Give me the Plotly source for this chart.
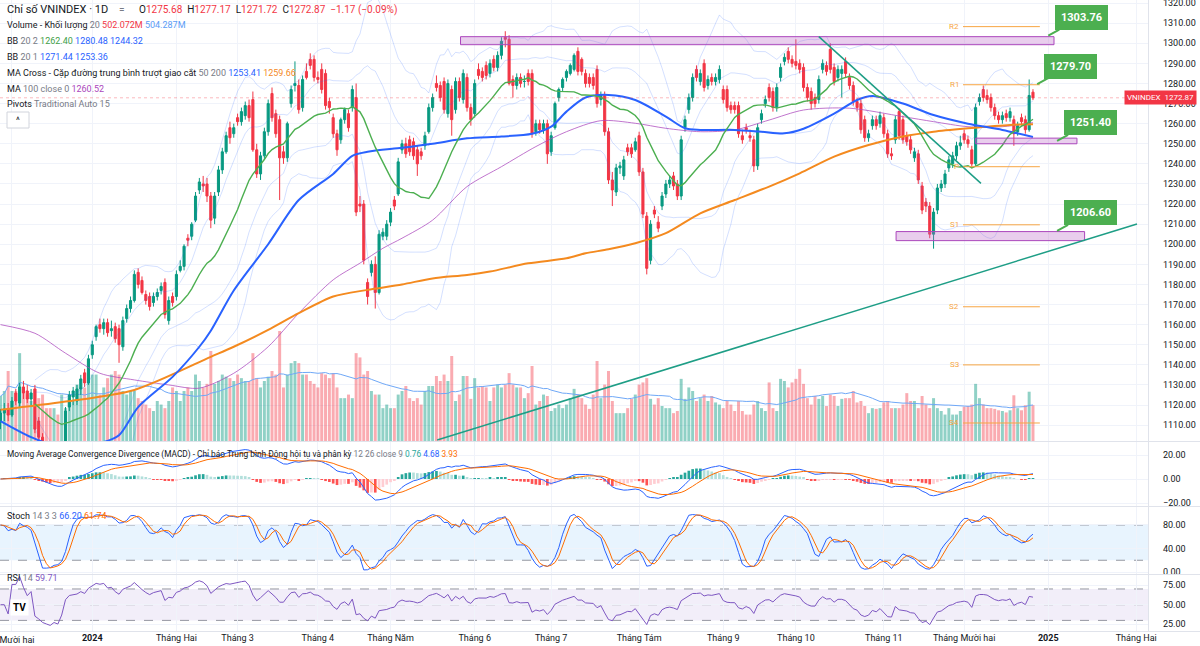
import numpy as np
import pandas as pd
import plotly.graph_objects as go

# ------------------------------------------------------------------ data
opens = [1112,1116,1118,1115,1126,1121,1129,1127,1123,1128,
1112,1104,1098,1095,1092,1094,1091,1098,1119,1124,
1122,1128,1136,1131,1145,1154,1160,1158,1161,1157,
1159,1158,1149,1163,1168,1172,1186,1182,1175,1174,
1171,1174,1177,1181,1162,1174,1174,1187,1189,1203,
1204,1212,1227,1230,1230,1224,1213,1226,1237,1246,
1258,1255,1263,1261,1264,1269,1272,1247,1235,1244,
1256,1275,1265,1262,1246,1243,1270,1279,1279,1268,
1286,1292,1292,1283,1287,1285,1271,1263,1255,1252,
1262,1265,1268,1273,1220,1220,1181,1186,1190,1176,
1204,1204,1211,1222,1225,1247,1250,1252,1251,1247,
1246,1249,1256,1268,1280,1279,1281,1265,1277,1267,
1281,1272,1283,1268,1265,1287,1286,1289,1285,1292,
1288,1294,1303,1302,1282,1279,1283,1281,1285,1285,
1256,1260,1257,1260,1246,1258,1273,1278,1283,1285,
1287,1296,1292,1285,1283,1283,1287,1272,1274,1256,
1232,1226,1238,1234,1248,1248,1247,1254,1236,1214,
1192,1217,1211,1219,1225,1230,1234,1230,1224,1258,
1267,1273,1287,1281,1290,1279,1283,1281,1282,1277,
1277,1269,1269,1269,1254,1258,1254,1252,1239,1262,
1270,1278,1276,1268,1283,1291,1296,1292,1291,1290,
1288,1278,1276,1273,1272,1287,1289,1297,1288,1283,
1285,1291,1283,1279,1271,1270,1262,1253,1259,1262,
1260,1263,1255,1245,1252,1266,1262,1254,1252,1243,
1245,1229,1221,1219,1205,1217,1228,1230,1238,1240,
1244,1249,1255,1252,1247,1240,1271,1277,1274,1273,
1268,1264,1262,1265,1263,1262,1256,1263,1262,1257,
1275.68]

highs = [1118,1121,1121,1124,1128,1131,1132,1130,1128,1130,
1114,1106,1102,1099,1097,1098,1100,1119,1127,1129,
1130,1135,1138,1145,1152,1160,1163,1163,1163,1162,
1161,1160,1164,1170,1174,1187,1188,1184,1177,1176,
1176,1178,1181,1183,1174,1176,1187,1192,1200,1205,
1211,1226,1233,1234,1233,1226,1226,1239,1248,1256,
1261,1260,1265,1268,1271,1272,1276,1250,1246,1258,
1272,1278,1267,1264,1249,1261,1279,1291,1282,1284,
1290,1295,1294,1286,1290,1287,1273,1265,1257,1263,
1268,1267,1279,1280,1224,1222,1183,1192,1194,1207,
1208,1212,1218,1224,1243,1252,1253,1254,1253,1249,
1248,1256,1270,1275,1284,1281,1283,1282,1279,1283,
1283,1287,1285,1270,1282,1290,1288,1291,1292,1294,
1296,1303,1306,1304,1284,1285,1285,1284,1287,1287,
1262,1262,1262,1262,1256,1271,1278,1283,1287,1290,
1295,1298,1293,1287,1285,1285,1289,1276,1276,1258,
1236,1240,1241,1244,1250,1250,1253,1256,1238,1216,
1212,1219,1214,1226,1232,1234,1236,1232,1254,1264,
1275,1285,1289,1287,1292,1284,1285,1285,1289,1279,
1279,1271,1271,1271,1257,1260,1257,1254,1260,1267,
1274,1280,1278,1280,1290,1295,1298,1294,1302,1292,
1290,1280,1278,1275,1284,1292,1291,1300,1290,1289,
1289,1293,1285,1281,1273,1272,1264,1257,1264,1264,
1266,1265,1257,1248,1264,1267.5,1264,1256,1254,1248,
1247,1231,1223,1221,1218,1230,1232,1237,1244,1246,
1251,1254,1257,1254,1249,1270,1275,1279,1277,1275,
1270,1266,1266,1267,1268,1264,1261,1265,1264,1282,
1277.17]

lows = [1108,1112,1112,1114,1120,1119,1123,1121,1120,1106,
1102,1096,1092,1088,1086,1089,1088,1097,1117,1120,
1120,1125,1129,1130,1143,1152,1156,1155,1154,1154,
1151,1141,1147,1161,1166,1171,1178,1175,1170,1167,
1169,1172,1175,1163,1160,1169,1172,1186,1187,1199,
1202,1211,1225,1226,1221,1208,1210,1224,1235,1245,
1250,1253,1259,1259,1262,1261,1246,1233,1232,1242,
1254,1261,1253,1222,1240,1241,1268,1276,1265,1266,
1282,1287,1281,1280,1275,1267,1265,1253,1244,1250,
1260,1256,1266,1214,1216,1190,1170,1184,1168,1175,
1202,1202,1209,1217,1224,1245,1243,1244,1242,1234,
1242,1247,1255,1266,1276,1271,1265,1263,1254,1265,
1271,1270,1266,1259,1263,1282,1281,1282,1283,1286,
1286,1292,1298,1279,1273,1277,1278,1278,1279,1253,
1254,1255,1255,1240,1244,1257,1271,1276,1281,1284,
1286,1284,1284,1278,1278,1277,1268,1269,1254,1230,
1219,1224,1235,1232,1244,1243,1246,1234,1213,1185,
1190,1213,1206,1217,1223,1228,1227,1222,1222,1256,
1265,1271,1281,1279,1276,1277,1279,1279,1280,1270,
1266,1265,1265,1253,1250,1255,1251,1236,1237,1260,
1268,1271,1266,1266,1281,1289,1290,1288,1287,1285,
1276,1271,1267,1268,1270,1285,1284,1285,1279,1281,
1273,1283,1277,1269,1266,1255,1251,1251,1257,1257,
1258,1253,1243,1242,1250,1252,1250,1249,1245,1241,
1230,1215,1216,1203,1197.8,1215,1226,1228,1236,1238,
1242,1247,1250,1248,1238,1239,1269,1271,1270,1266,
1262,1260,1260,1261,1261,1249,1254,1259,1255,1256,
1271.72]

closes = [1116,1118,1115,1122,1122,1129,1126,1123,1126,1108,
1104,1098,1095,1092,1094,1091,1098,1117,1125,1127,
1128,1133,1131,1143,1150,1159,1158,1161,1156,1158,
1153,1150,1162,1168,1172,1185,1180,1176,1172,1169,
1174,1176,1179,1165,1172,1171,1185,1189,1199,1202,
1210,1224,1231,1229,1224,1212,1224,1237,1246,1254,
1253,1258,1261,1266,1269,1263,1247,1235,1244,1256,
1270,1263,1255,1243,1243,1260,1277,1280,1267,1282,
1283,1289,1283,1282,1277,1269,1268,1255,1247,1262,
1267,1258,1277,1216,1219,1192,1174,1190,1176,1205,
1206,1210,1216,1219,1241,1250,1245,1246,1244,1240,
1244,1254,1268,1273,1278,1273,1267,1280,1262,1281,
1273,1285,1268,1262,1280,1284,1283,1284,1290,1288,
1294,1301,1302,1280,1279,1283,1280,1281,1281,1255,
1260,1257,1260,1245,1254,1270,1277,1282,1286,1289,
1294,1286,1286,1280,1280,1279,1270,1274,1256,1232,
1227,1238,1239,1242,1246,1245,1251,1236,1215,1188,
1210,1215,1208,1224,1230,1232,1229,1224,1252,1262,
1273,1283,1283,1285,1278,1282,1281,1283,1287,1272,
1268,1267,1267,1255,1252,1257,1253,1239,1258,1265,
1272,1273,1268,1278,1288,1293,1292,1290,1289,1287,
1278,1273,1270,1270,1282,1290,1286,1287,1281,1287,
1287,1285,1279,1271,1268,1257,1253,1255,1262,1259,
1264,1255,1245,1244,1262,1254,1252,1251,1247,1246,
1232,1217,1219,1205,1216,1228,1230,1235,1242,1244,
1249,1250.46,1252,1250,1240,1268,1273,1273,1272,1268,
1264,1262,1264,1263,1266,1255,1259,1261,1257,1274.04,
1272.87]

volumes_m = [630,700,980,700,700,1230,730,650,560,730,
600,650,460,460,460,370,650,460,600,560,
790,750,750,1120,930,930,650,750,880,930,
980,930,700,650,700,700,600,560,510,460,
420,560,510,460,560,750,700,560,700,750,
700,930,840,750,800,1260,800,840,930,900,
880,840,930,880,840,840,1230,880,750,840,
900,980,930,1540,750,930,1090,1120,1090,930,
930,840,800,750,950,930,880,950,750,600,
600,650,600,1230,1170,930,980,700,650,650,
460,510,460,460,650,700,770,600,560,600,
510,700,770,770,910,840,930,840,1190,560,
650,910,910,590,880,750,770,750,560,750,
790,750,790,950,790,750,750,600,670,1050,
510,560,650,630,420,460,510,460,510,600,
730,650,600,510,450,650,1120,600,790,980,
560,390,390,390,460,590,650,790,820,880,
590,510,600,490,460,460,390,420,870,590,
750,700,560,600,650,560,630,540,510,460,
560,510,420,560,420,370,370,510,560,460,
420,820,460,420,870,840,750,820,870,1010,
800,600,510,630,590,630,490,650,630,490,
590,600,600,700,540,560,490,390,460,450,
460,540,560,460,460,460,510,670,560,560,
460,630,510,460,600,460,420,370,460,370,
370,420,480,490,510,800,600,510,460,460,
450,430,420,400,430,640,460,430,500,690,
502.072]

# long moving averages (bar index, value)
ma50_bar = [0, 8, 14, 20, 26, 31, 36, 45, 52, 55, 61, 70, 78, 87, 92, 96, 105, 113, 122, 131,
            139, 144, 148, 153, 159, 166, 174, 179, 183, 192, 199, 205, 210, 218, 224, 228,
            236, 244, 253, 262, 270]
ma50_val = [1112, 1104, 1100, 1099, 1101, 1105, 1119, 1134, 1149, 1157, 1177, 1200, 1222, 1235,
            1244, 1246, 1248, 1250, 1252.7, 1253.6, 1255, 1258.5, 1266, 1273, 1274.3, 1271.8,
            1263.5, 1257.7, 1256.9, 1256.9, 1256, 1255.2, 1257.5, 1265, 1271.8, 1273.8, 1270,
            1264.3, 1260, 1256.9, 1253.41]
ma200_bar = [0, 17, 35, 55, 61, 70, 78, 87, 96, 105, 113, 122, 128, 138, 148, 153, 159, 166, 174,
             183, 192, 201, 209, 218, 227, 236, 244, 253, 264, 270]
ma200_val = [1117.6, 1121.7, 1127.5, 1144, 1149, 1157.4, 1165.7, 1174, 1177.3, 1180, 1183, 1184.7,
             1186.4, 1190.5, 1193, 1195.5, 1197.5, 1200.5, 1205.5, 1215.4, 1222, 1228.7, 1235.3,
             1243.6, 1249.4, 1253.6, 1256, 1257.7, 1259.4, 1259.66]
ma100_bar = [0, 9, 17, 26, 35, 44, 52, 61, 70, 78, 87, 94, 100, 105, 113, 122, 131, 140, 148, 157,
             166, 174, 183, 192, 201, 210, 222, 236, 244, 253, 262, 270]
ma100_val = [1160, 1155.7, 1145.8, 1135.8, 1132.5, 1130, 1128.4, 1135.8, 1149, 1165.7, 1182.3,
             1190.6, 1198, 1203, 1212, 1228.7, 1238.6, 1248.6, 1256, 1261.5, 1260.2, 1257.7, 1256,
             1256.9, 1261.8, 1266.8, 1267.7, 1263.5, 1261, 1258.5, 1258.5, 1260.52]

# user drawings: zones (low, high, from bar, to bar), trend lines, callouts (value, bar)
zone_low = [1299.3, 1250.0, 1201.8]
zone_high = [1303.3, 1252.8, 1206.3]
zone_from = [120.3, 255.0, 234.2]
zone_to = [275.5, 281.5, 283.5]
trend_x0 = [114.2, 214.0]
trend_y0 = [1102.6, 1303.3]
trend_x1 = [297.2, 256.4]
trend_y1 = [1210.1, 1230.3]
callout_val = [1303.76, 1279.70, 1251.40, 1206.60]
callout_bar = [274.0, 271.1, 276.3, 276.3]

holidays = ["2024-01-01", "2024-02-08", "2024-02-09", "2024-02-12", "2024-02-13", "2024-02-14",
            "2024-04-18", "2024-04-29", "2024-04-30", "2024-05-01", "2024-09-02", "2024-09-03"]
month_names = {2: "Tháng Hai", 3: "Tháng 3", 4: "Tháng 4", 5: "Tháng Năm", 6: "Tháng 6",
               7: "Tháng 7", 8: "Tháng Tám", 9: "Tháng 9", 10: "Tháng 10", 11: "Tháng 11",
               12: "Tháng Mười hai"}

# ------------------------------------------------------------------ derived
past = [d for d in pd.bdate_range("2023-11-28", "2024-12-26") if d.strftime("%Y-%m-%d") not in holidays]
future = list(pd.bdate_range("2024-12-27", periods=40))
dates = past + future
n = len(closes)
assert len(past) == n == len(opens) == len(highs) == len(lows) == len(volumes_m)
idx = np.arange(n)

tickvals, ticktext = [], []
for i in range(1, len(dates)):
    if dates[i].month != dates[i - 1].month:
        tickvals.append(i)
        ticktext.append(f"<b>{dates[i].year}</b>" if dates[i].month == 1 else month_names[dates[i].month])
# the first month label is cut by the left edge: draw it separately
first_tick_text = ticktext[0]
ticktext[0] = ""

c = pd.Series(closes, dtype=float)
hi = pd.Series(highs, dtype=float)
lo = pd.Series(lows, dtype=float)
op = pd.Series(opens, dtype=float)
vol = pd.Series(volumes_m, dtype=float)

ma20 = c.rolling(20, min_periods=10).mean()
sd20 = c.rolling(20, min_periods=10).std(ddof=0)
bb2u, bb2l = ma20 + 2 * sd20, ma20 - 2 * sd20
bb1u, bb1l = ma20 + sd20, ma20 - sd20
vma = vol.rolling(20, min_periods=1).mean()

ema12 = c.ewm(span=12, adjust=False).mean()
ema26 = c.ewm(span=26, adjust=False).mean()
macd = ema12 - ema26
signal = macd.ewm(span=9, adjust=False).mean()
hist = macd - signal

hh = hi.rolling(14, min_periods=1).max()
ll = lo.rolling(14, min_periods=1).min()
raw_k = 100 * (c - ll) / (hh - ll)
stoch_k = raw_k.rolling(3, min_periods=1).mean()
stoch_d = stoch_k.rolling(3, min_periods=1).mean()

delta = c.diff().fillna(0)
gain = delta.clip(lower=0).ewm(alpha=1 / 14, adjust=False).mean()
loss = (-delta.clip(upper=0)).ewm(alpha=1 / 14, adjust=False).mean()
rsi = 100 - 100 / (1 + gain / loss.replace(0, np.nan))
rsi = rsi.fillna(50)

# monthly traditional pivots from November bars
nov = [i for i in range(n) if past[i].year == 2024 and past[i].month == 11]
dec = [i for i in range(n) if past[i].year == 2024 and past[i].month == 12]
pH, pL, pC = max(highs[i] for i in nov), min(lows[i] for i in nov), closes[nov[-1]]
PP = (pH + pL + pC) / 3
pivots = {"R2": PP + (pH - pL), "R1": 2 * PP - pL, "P": PP, "S1": 2 * PP - pH,
          "S2": PP - (pH - pL), "S3": 2 * PP - (2 * pH - pL), "S4": 3 * PP - (3 * pH - pL)}

# ------------------------------------------------------------------ style / layout
W, H = 1200, 646
FONT = "Roboto, 'Liberation Sans', Arial, sans-serif"
UP, DOWN = "#089981", "#f23645"
DARK, GREY = "#131722", "#787b86"
GRID = "#f0f3fa"
PLOT_R = 1148
BAR_PX = 3.824
xr0 = -0.5 / BAR_PX
xr1 = xr0 + PLOT_R / BAR_PX
MAIN, MACDP, STOP, RSIP = (0, 441), (442, 506), (507, 574), (575, 631)
NB = "\u00a0"


def dom(p):
    return [1 - p[1] / H, 1 - p[0] / H]


def px(x):
    return x / W


def py(y):
    return 1 - y / H


fig = go.Figure()

# volume (base axis of the main pane, drawn under price)
vcol = ["rgba(8,153,129,0.45)" if closes[i] >= opens[i] else "rgba(242,54,69,0.42)" for i in range(n)]
fig.add_trace(go.Bar(x=idx, y=vol, marker=dict(color=vcol, line=dict(width=0)), width=0.78,
                     xaxis="x2", yaxis="y"))
fig.add_trace(go.Scatter(x=idx, y=vma, mode="lines", line=dict(color="#6fa8f7", width=1),
                         xaxis="x2", yaxis="y"))

# candles
fig.add_trace(go.Candlestick(x=idx, open=op, high=hi, low=lo, close=c,
                             increasing=dict(line=dict(color=UP, width=1), fillcolor=UP),
                             decreasing=dict(line=dict(color=DOWN, width=1), fillcolor=DOWN),
                             whiskerwidth=0, xaxis="x2", yaxis="y5"))

band_col = "rgba(41,98,255,0.2)"
for s in (bb2u, bb2l, bb1u, bb1l):
    fig.add_trace(go.Scatter(x=idx, y=s, mode="lines", line=dict(color=band_col, width=1),
                             xaxis="x2", yaxis="y5"))
fig.add_trace(go.Scatter(x=ma100_bar, y=ma100_val, mode="lines",
                         line=dict(color="rgba(171,71,188,0.75)", width=1, shape="spline", smoothing=0.8),
                         xaxis="x2", yaxis="y5"))
fig.add_trace(go.Scatter(x=ma200_bar, y=ma200_val, mode="lines",
                         line=dict(color="#f48a1f", width=2, shape="spline", smoothing=0.8),
                         xaxis="x2", yaxis="y5"))
fig.add_trace(go.Scatter(x=ma50_bar, y=ma50_val, mode="lines",
                         line=dict(color="#2962ff", width=2, shape="spline", smoothing=0.8),
                         xaxis="x2", yaxis="y5"))
fig.add_trace(go.Scatter(x=idx, y=ma20, mode="lines", line=dict(color="#4caf50", width=1.4),
                         xaxis="x2", yaxis="y5"))

# MACD
hcol = []
for i in range(n):
    prev = hist.iloc[i - 1] if i > 0 else 0
    h = hist.iloc[i]
    if h >= 0:
        hcol.append("#26a69a" if h >= prev else "#b2dfdb")
    else:
        hcol.append("#ff5252" if h <= prev else "#ffcdd2")
fig.add_trace(go.Bar(x=idx, y=hist, marker=dict(color=hcol, line=dict(width=0)), width=0.7,
                     xaxis="x3", yaxis="y2"))
fig.add_trace(go.Scatter(x=idx, y=macd, mode="lines", line=dict(color="#2962ff", width=1),
                         xaxis="x3", yaxis="y2"))
fig.add_trace(go.Scatter(x=idx, y=signal, mode="lines", line=dict(color="#ff6d00", width=1),
                         xaxis="x3", yaxis="y2"))
# Stoch
fig.add_trace(go.Scatter(x=idx, y=stoch_k, mode="lines", line=dict(color="#2962ff", width=1),
                         xaxis="x4", yaxis="y3"))
fig.add_trace(go.Scatter(x=idx, y=stoch_d, mode="lines", line=dict(color="#ff6d00", width=1),
                         xaxis="x4", yaxis="y3"))
# RSI
fig.add_trace(go.Scatter(x=idx, y=rsi, mode="lines", line=dict(color="#7e57c2", width=1),
                         xaxis="x", yaxis="y4"))

shapes = []
shapes.append(dict(type="rect", xref="paper", yref="y3", x0=0, x1=px(PLOT_R), y0=20, y1=80,
                   fillcolor="rgba(33,150,243,0.10)", line=dict(width=0), layer="below"))
for lv in (80, 20):
    shapes.append(dict(type="line", xref="paper", yref="y3", x0=0, x1=px(PLOT_R), y0=lv, y1=lv,
                       line=dict(color="#9598a1", width=1, dash="dash"), layer="below"))
shapes.append(dict(type="rect", xref="paper", yref="y4", x0=0, x1=px(PLOT_R), y0=30, y1=70,
                   fillcolor="rgba(126,87,194,0.10)", line=dict(width=0), layer="below"))
for lv in (70, 50, 30):
    shapes.append(dict(type="line", xref="paper", yref="y4", x0=0, x1=px(PLOT_R), y0=lv, y1=lv,
                       line=dict(color="#9598a1", width=1, dash="dash"), layer="below"))
for yy in (441.5, 506.5, 574.5):
    shapes.append(dict(type="line", xref="paper", yref="paper", x0=0, x1=1, y0=py(yy), y1=py(yy),
                       line=dict(color="#e0e3eb", width=1)))
shapes.append(dict(type="line", xref="paper", yref="paper", x0=px(PLOT_R + 0.5), x1=px(PLOT_R + 0.5),
                   y0=py(631), y1=1, line=dict(color="#e0e3eb", width=1)))
shapes.append(dict(type="line", xref="paper", yref="paper", x0=0, x1=1, y0=py(631.5), y1=py(631.5),
                   line=dict(color="#e0e3eb", width=1)))
shapes.append(dict(type="line", xref="paper", yref="y5", x0=0, x1=px(PLOT_R), y0=closes[-1], y1=closes[-1],
                   line=dict(color="rgba(242,54,69,0.35)", width=1, dash="dot")))
for lo_, hi_, a, b in zip(zone_low, zone_high, zone_from, zone_to):
    shapes.append(dict(type="rect", xref="x2", yref="y5", x0=a, x1=b, y0=lo_, y1=hi_,
                       fillcolor="rgba(186,104,200,0.32)", line=dict(color="#ab47bc", width=1)))
for a, b, cc, d in zip(trend_x0, trend_y0, trend_x1, trend_y1):
    shapes.append(dict(type="line", xref="x2", yref="y5", x0=a, y0=b, x1=cc, y1=d,
                       line=dict(color="#1e9e86", width=1.5)))
piv_x0 = dec[0] - 0.3
piv_x1 = n + 0.8
for name, val in pivots.items():
    shapes.append(dict(type="line", xref="x2", yref="y5", x0=piv_x0, x1=piv_x1, y0=val, y1=val,
                       line=dict(color="#f7a543", width=1)))
shapes.append(dict(type="rect", xref="paper", yref="paper", x0=px(7), x1=px(29), y0=py(128), y1=py(112),
                   line=dict(color="#d1d4dc", width=1), fillcolor="white"))
fig.update_layout(shapes=shapes)

ann = []


def label(x, y, text, size=9, color=DARK, xanchor="left", **kw):
    ann.append(dict(xref="paper", yref="paper", x=px(x), y=py(y), text=text, showarrow=False,
                    xanchor=xanchor, yanchor="middle", font=dict(family=FONT, size=size, color=color), **kw))


def sp(t, col):
    return f"<span style='color:{col}'>{t}</span>"


BLUE = "#2962ff"
ORANGE = "#f48a1f"
G2 = NB * 2
label(5, 10, "Chỉ số VNINDEX · 1D", size=11)
label(122, 10, "=", size=10, color=GREY, xanchor="center")
label(137, 10, "O" + sp("1275.68", DOWN) + G2 + "H" + sp("1277.17", DOWN) + G2 + "L" + sp("1271.72", DOWN) +
      G2 + "C" + sp("1272.87", DOWN) + G2 + sp("−1.17 (−0.09%)", DOWN), size=10)
label(5, 25, "Volume - Khối lượng " + sp("20", GREY) + " " + sp("502.072M", DOWN) + " " + sp("504.287M", "#5b9cf6"))
label(5, 41, "BB " + sp("20 2", GREY) + " " + sp("1262.40", "#43a047") + " " + sp("1280.48", BLUE) + " " + sp("1244.32", BLUE))
label(5, 57, "BB " + sp("20 1", GREY) + " " + sp("1271.44", BLUE) + " " + sp("1253.36", BLUE))
label(5, 73, "MA Cross - Cặp đường trung bình trượt giao cắt " + sp("50 200", GREY) + " " +
      sp("1253.41", BLUE) + " " + sp("1259.66", ORANGE))
label(5, 89, "MA " + sp("100 close 0", GREY) + " " + sp("1260.52", "#ab47bc"))
label(5, 104, "Pivots " + sp("Traditional Auto 15", GREY))
label(18, 120, "^", size=9, color=DARK, xanchor="center")
label(5, 454, "Moving Average Convergence Divergence (MACD) - Chỉ báo Trung bình Động hội tụ và phân kỳ " +
      sp("12 26 close 9", GREY) + " " + sp("0.76", "#26a69a") + " " + sp("4.68", BLUE) + " " + sp("3.93", "#ff6d00"),
      size=8.3)
label(5, 516, "Stoch " + sp("14 3 3", GREY) + " " + sp("66.20", BLUE) + " " + sp("61.74", "#ff6d00"))
label(5, 578, "RSI " + sp("14", GREY) + " " + sp("59.71", "#7e57c2"))
label(19, 607, "<b>TV</b>", size=10, color="#000000", xanchor="center", bgcolor="white", borderpad=2)
label(37, 640, first_tick_text, size=9, color=DARK, xanchor="right")

ann.append(dict(xref="paper", yref="y5", x=px(1160), y=closes[-1], text="VNINDEX" + G2 + f"{closes[-1]:.2f}",
                showarrow=False, xanchor="center", yanchor="middle", bgcolor=DOWN, borderpad=2,
                font=dict(family=FONT, size=8, color="white")))
for val, bar in zip(callout_val, callout_bar):
    ann.append(dict(xref="x2", yref="y5", x=bar, y=val, text=f"<b>{val:.2f}</b>", showarrow=True,
                    arrowhead=0, arrowwidth=2, arrowcolor="#4caf50", ax=33, ay=-18, standoff=0,
                    bgcolor="#4caf50", bordercolor="#4caf50", borderpad=5,
                    font=dict(family=FONT, size=11, color="white")))
for name, val in pivots.items():
    ann.append(dict(xref="x2", yref="y5", x=piv_x0 - 0.4, y=val, text=name, showarrow=False,
                    xanchor="right", yanchor="middle", font=dict(family=FONT, size=8, color="#f7a543")))
fig.update_layout(annotations=ann)

axis_font = dict(family=FONT, size=9, color=DARK)
common_x = dict(range=[xr0, xr1], domain=[0, px(PLOT_R)], showgrid=True, gridcolor=GRID, zeroline=False,
                showline=False, ticks="", tickvals=tickvals, ticktext=ticktext, automargin=False)
common_y = dict(side="right", showgrid=True, gridcolor=GRID, zeroline=False, showline=False, ticks="",
                tickfont=axis_font, tickformat=".2f", ticklabelstandoff=14, automargin=False,
                ticklabeloverflow="allow")

fig.update_layout(
    width=W, height=H, margin=dict(l=0, r=0, t=0, b=0, autoexpand=False),
    paper_bgcolor="white", plot_bgcolor="white", showlegend=False, hovermode=False,
    font=dict(family=FONT, color=DARK), boxgap=0.22, bargap=0.2,
    xaxis=dict(**common_x, anchor="y4", tickfont=axis_font, ticklabeloverflow="allow"),
    xaxis2=dict(**common_x, matches="x", anchor="y", showticklabels=False),
    xaxis3=dict(**common_x, matches="x", anchor="y2", showticklabels=False),
    xaxis4=dict(**common_x, matches="x", anchor="y3", showticklabels=False),
    yaxis=dict(domain=dom(MAIN), range=[0, 441 * 14], visible=False, anchor="x2", fixedrange=True,
               automargin=False),
    yaxis5=dict(**common_y, overlaying="y", anchor="x2", range=[1102.1, 1321.54], dtick=10),
    yaxis2=dict(**common_y, domain=dom(MACDP), anchor="x3", range=[-22.5, 30.83], tickvals=[-20, 0, 20]),
    yaxis3=dict(**common_y, domain=dom(STOP), anchor="x4", range=[-3.4, 110.6], tickvals=[0, 40, 80]),
    yaxis4=dict(**common_y, domain=dom(RSIP), anchor="x", range=[16.5, 87.8], tickvals=[25, 50, 75]),
)
fig.update_xaxes(rangeslider_visible=False)

fig.write_html("out.html")
